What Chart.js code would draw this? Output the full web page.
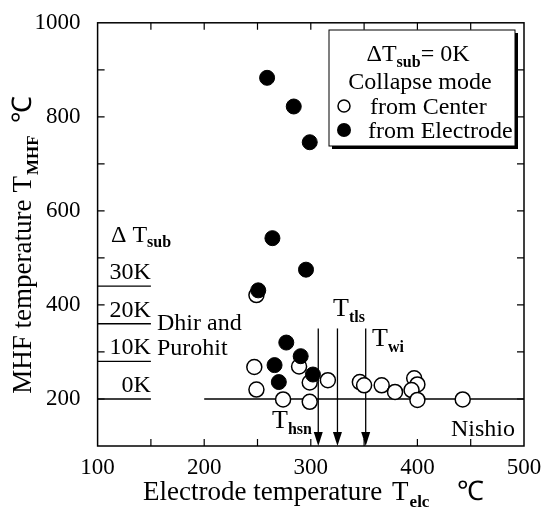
<!DOCTYPE html>
<html>
<head>
<meta charset="utf-8">
<script src="https://cdn.jsdelivr.net/npm/chart.js@4.4.0/dist/chart.umd.min.js"></script>
<style>
html,body{margin:0;padding:0;background:#fff;}
#wrap{width:551px;height:510px;position:relative;}
</style>
</head>
<body>
<div id="wrap"><canvas id="c" width="551" height="510"></canvas></div>
<script>
// ---- data ----
const centerX = [249, 247, 249, 289, 274, 299, 299, 316, 346, 350, 366.5, 379, 397, 400, 394.5, 400, 442.5];
const centerY = [421, 268, 220, 269, 199, 194, 235, 240, 236, 229, 229, 215, 244, 231, 219, 198, 199];
const electrodeX = [259, 284, 299, 264, 295.5, 250.7, 277, 290.5, 266, 270, 302];
const electrodeY = [883, 822, 746, 542, 475, 431, 320, 291, 272, 236, 252];
const xTicks = [100, 200, 300, 400, 500];
const yTicks = [200, 400, 600, 800, 1000];
const dhirValues = [440, 360, 280, 200];
const dhirLabels = ['30K', '20K', '10K', '0K'];
const dhirXRange = [100, 150];
const nishioY = 200;
const nishioXRange = [200, 500];
const arrowX = [307, 325, 351.5];
const arrowLabels = [['T', 'hsn'], ['T', 'tls'], ['T', 'wi']];
const arrowTop = 350;

const SERIF = '"Liberation Serif", "Times New Roman", serif';

function pts(xs, ys) { return xs.map((x, i) => ({ x: x, y: ys[i] })); }

function rich(ctx, parts, x, y, align) {
  // parts: [text, size, bold, dy, gapAfter]
  let w = 0;
  parts.forEach(p => { ctx.font = (p[2] ? 'bold ' : '') + p[1] + 'px ' + SERIF; w += ctx.measureText(p[0]).width + (p[4] || 0); });
  let cx = align === 'center' ? x - w / 2 : (align === 'right' ? x - w : x);
  ctx.textBaseline = 'alphabetic';
  ctx.textAlign = 'left';
  parts.forEach(p => {
    ctx.font = (p[2] ? 'bold ' : '') + p[1] + 'px ' + SERIF;
    ctx.fillText(p[0], cx, y + (p[3] || 0));
    cx += ctx.measureText(p[0]).width + (p[4] || 0);
  });
  return w;
}

const deco = {
  id: 'deco',
  beforeDatasetsDraw(chart) {
    const ctx = chart.ctx, xs = chart.scales.x, ys = chart.scales.y, a = chart.chartArea;
    ctx.save();
    ctx.strokeStyle = '#000';
    ctx.fillStyle = '#000';
    ctx.lineWidth = 1.3;
    dhirValues.forEach(v => {
      const yy = ys.getPixelForValue(v);
      ctx.beginPath();
      ctx.moveTo(xs.getPixelForValue(dhirXRange[0]), yy);
      ctx.lineTo(xs.getPixelForValue(dhirXRange[1]), yy);
      ctx.stroke();
    });
    ctx.beginPath();
    ctx.moveTo(xs.getPixelForValue(nishioXRange[0]), ys.getPixelForValue(nishioY));
    ctx.lineTo(xs.getPixelForValue(nishioXRange[1]), ys.getPixelForValue(nishioY));
    ctx.stroke();
    arrowX.forEach(v => {
      const xx = xs.getPixelForValue(v);
      const y0 = ys.getPixelForValue(arrowTop), y1 = a.bottom;
      ctx.beginPath();
      ctx.moveTo(xx, y0);
      ctx.lineTo(xx, y1 - 10);
      ctx.stroke();
      ctx.beginPath();
      ctx.moveTo(xx - 4.5, y1 - 14);
      ctx.lineTo(xx + 4.5, y1 - 14);
      ctx.lineTo(xx, y1);
      ctx.closePath();
      ctx.fill();
    });
    ctx.restore();
  },
  afterDatasetsDraw(chart) {
    const ctx = chart.ctx, xs = chart.scales.x, ys = chart.scales.y, a = chart.chartArea;
    ctx.save();
    ctx.strokeStyle = '#000';
    ctx.fillStyle = '#000';
    ctx.lineWidth = 1.5;
    ctx.strokeRect(a.left, a.top, a.right - a.left, a.bottom - a.top);
    ctx.lineWidth = 1.2;
    const tl = 7;
    for (let v = 150; v < 500; v += 50) {
      const xx = xs.getPixelForValue(v);
      ctx.beginPath();
      ctx.moveTo(xx, a.bottom); ctx.lineTo(xx, a.bottom - tl);
      ctx.moveTo(xx, a.top); ctx.lineTo(xx, a.top + tl);
      ctx.stroke();
    }
    for (let v = 200; v < 1000; v += 100) {
      const yy = ys.getPixelForValue(v);
      ctx.beginPath();
      ctx.moveTo(a.left, yy); ctx.lineTo(a.left + tl, yy);
      ctx.moveTo(a.right, yy); ctx.lineTo(a.right - tl, yy);
      ctx.stroke();
    }
    dhirValues.forEach((v, i) => {
      const yy = ys.getPixelForValue(v);
      rich(ctx, [[dhirLabels[i], 24, false, 0]], xs.getPixelForValue(dhirXRange[1]), yy - 7, 'right');
    });
    rich(ctx, [['\u0394 T', 24, false, 0], ['sub', 16, true, 5]], 111, 242, 'left');
    rich(ctx, [['Dhir and', 24, false, 0]], 157, 330, 'left');
    rich(ctx, [['Purohit', 24, false, 0]], 157, 355, 'left');
    rich(ctx, [['Nishio', 24, false, 0]], 451, 436, 'left');
    const lblPos = [[272, 428], [333, 316], [372, 346]];
    arrowLabels.forEach((l, i) => {
      rich(ctx, [[l[0], 26, false, 0], [l[1], 16, true, 6]], lblPos[i][0], lblPos[i][1], 'left');
    });
    const lx = 329, ly = 30, lw = 186, lh = 116;
    ctx.fillRect(lx + 3, ly + 3, lw, lh);
    ctx.fillStyle = '#fff';
    ctx.fillRect(lx, ly, lw, lh);
    ctx.lineWidth = 1;
    ctx.strokeRect(lx, ly, lw, lh);
    ctx.fillStyle = '#000';
    rich(ctx, [['\u0394T', 24, false, 0], ['sub', 16, true, 6], ['= 0K', 24, false, 0]], 418, 61, 'center');
    rich(ctx, [['Collapse mode', 24, false, 0]], 420, 89, 'center');
    rich(ctx, [['from Center', 24, false, 0]], 370, 114, 'left');
    rich(ctx, [['from Electrode', 24, false, 0]], 368, 138, 'left');
    ctx.lineWidth = 1.5;
    ctx.beginPath(); ctx.arc(344, 106, 6, 0, Math.PI * 2); ctx.stroke();
    ctx.beginPath(); ctx.arc(344, 130, 7, 0, Math.PI * 2); ctx.fill();
    rich(ctx, [['Electrode temperature', 27, false, 0, 10], ['T', 27, false, 0, 1], ['elc', 17, true, 7, 28], ['\u2103', 27, false, 0]], 143, 500, 'left');
    ctx.translate(31, 245);
    ctx.rotate(-Math.PI / 2);
    rich(ctx, [['MHF temperature', 27, false, 0, 7], ['T', 27, false, 0, 1], ['MHF', 17, true, 7, 12], ['\u2103', 27, false, 0]], 0, 0, 'center');
    ctx.restore();
  }
};

new Chart(document.getElementById('c'), {
  type: 'scatter',
  data: {
    datasets: [
      {
        label: 'from Center',
        data: pts(centerX, centerY),
        backgroundColor: '#fff',
        borderColor: '#000',
        borderWidth: 1.5,
        pointRadius: 7.5,
        order: 2
      },
      {
        label: 'from Electrode',
        data: pts(electrodeX, electrodeY),
        backgroundColor: '#000',
        borderColor: '#000',
        borderWidth: 1,
        pointRadius: 7.5,
        order: 1
      }
    ]
  },
  options: {
    responsive: false,
    animation: false,
    layout: { padding: { top: 18, right: 27, left: 0, bottom: 0 } },
    plugins: { legend: { display: false }, tooltip: { enabled: false } },
    scales: {
      x: {
        type: 'linear', min: 100, max: 500,
        grid: { display: false },
        border: { display: false },
        afterBuildTicks: s => { s.ticks = xTicks.map(v => ({ value: v })); },
        afterFit: s => { s.height = 64; },
        ticks: { color: '#000', padding: 0, maxRotation: 0, autoSkip: false, callback: v => String(v), font: { family: SERIF, size: 23 } }
      },
      y: {
        type: 'linear', min: 100, max: 1000,
        grid: { display: false },
        border: { display: false },
        afterBuildTicks: s => { s.ticks = yTicks.map(v => ({ value: v })); },
        afterFit: s => { s.width = 97.6; },
        ticks: { color: '#000', padding: 9, autoSkip: false, callback: v => String(v), font: { family: SERIF, size: 23 } }
      }
    }
  },
  plugins: [deco]
});
</script>
</body>
</html>
